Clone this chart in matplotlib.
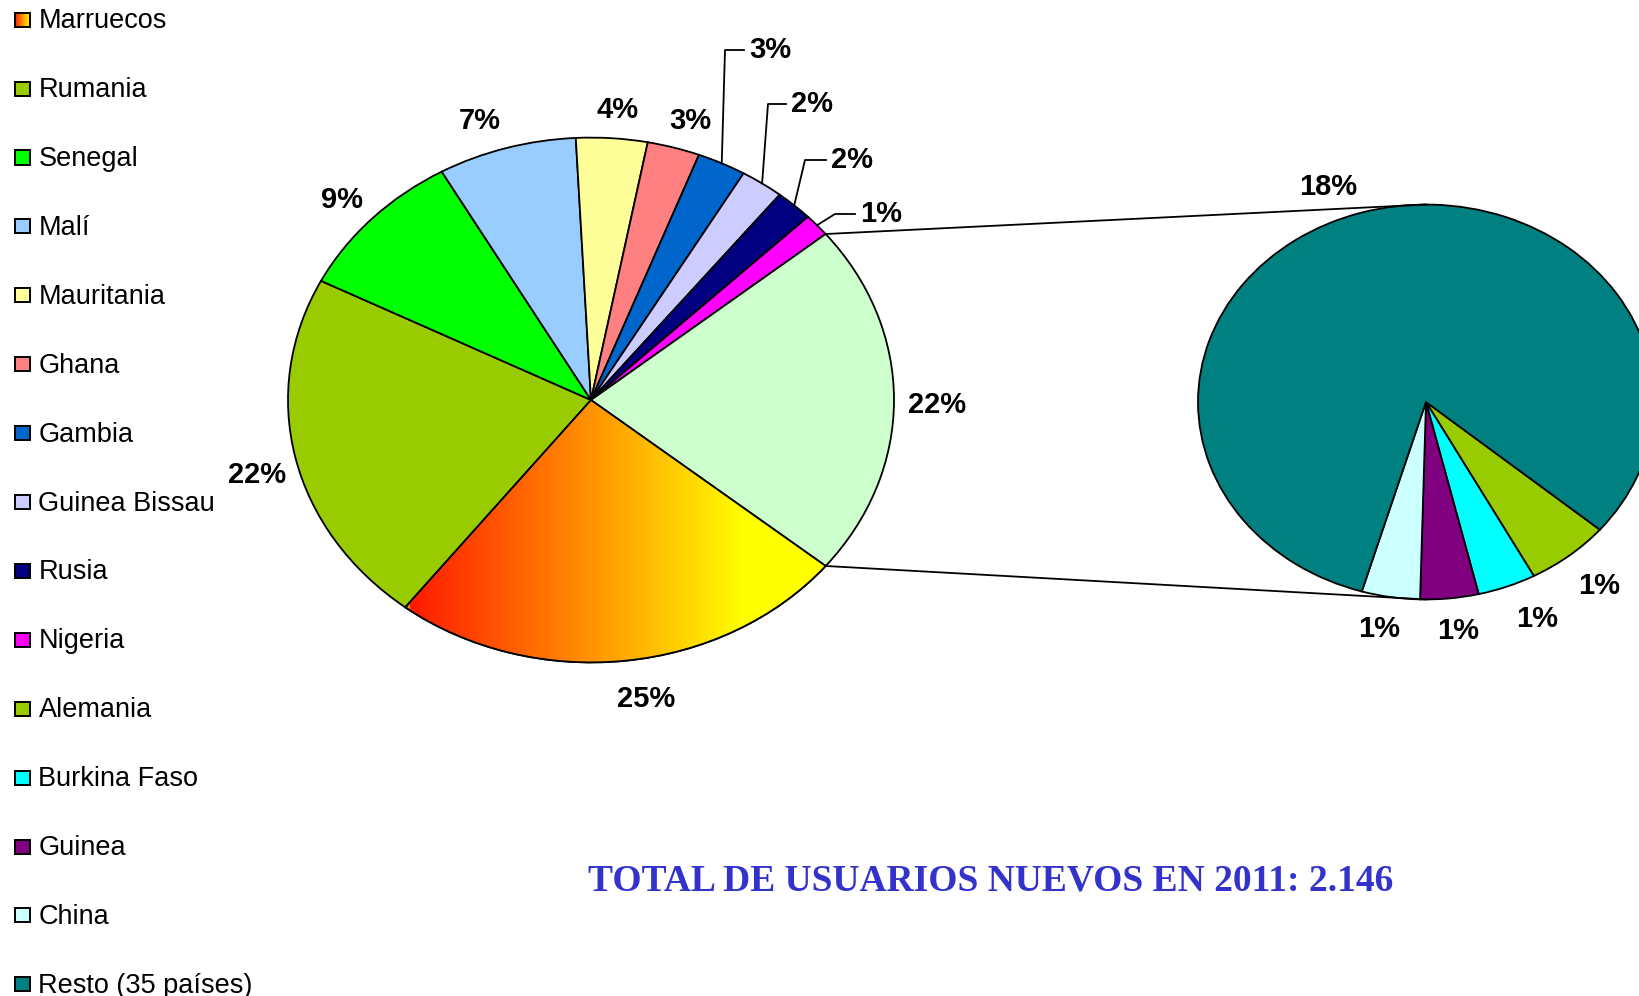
import numpy as np
import matplotlib
matplotlib.use('Agg')
import matplotlib.pyplot as plt
from matplotlib.patches import Rectangle, Wedge
from matplotlib.colors import LinearSegmentedColormap

# ---------------- data ----------------
main_labels = ['Marruecos', 'Rumania', 'Senegal', 'Malí', 'Mauritania', 'Ghana',
               'Gambia', 'Guinea Bissau', 'Rusia', 'Nigeria']
main_values = [24.6, 22.0, 9.3, 7.4, 3.8, 2.8, 2.6, 2.3, 2.0, 1.4]
sec_labels = ['Alemania', 'Burkina Faso', 'Guinea', 'China', 'Resto (35 países)']
sec_values = [1.3, 0.9, 0.9, 0.9, 17.8]
main_colors = ['#FF9900', '#99CC00', '#00FF00', '#99CCFF', '#FFFF99', '#FF8080',
               '#0066CC', '#CCCCFF', '#000080', '#FF00FF']
other_color = '#CCFFCC'
sec_colors = ['#99CC00', '#00FFFF', '#800080', '#CCFFFF', '#008080']
title = 'TOTAL DE USUARIOS NUEVOS EN 2011: 2.146'

# ---------------- layout helpers ----------------
W, H = 1639, 996
K = 0.866  # vertical squash of the pies


def Y(py):
    return (H - py) / K


SANS = ['Liberation Sans', 'DejaVu Sans']
fig = plt.figure(figsize=(W / 100, H / 100), dpi=100)
ax = fig.add_axes([0, 0, 1, 1])
LW = 1.3

# ---------------- main pie ----------------
other_value = sum(sec_values)
vals = main_values + [other_value]
cols = main_colors + [other_color]
total = sum(vals)
c1 = (591, Y(400))
R1 = 303
start1 = -other_value / total * 360 / 2
w1, _ = ax.pie(vals, colors=cols, center=c1, radius=R1, startangle=start1,
               counterclock=False, wedgeprops=dict(edgecolor='black', linewidth=LW))

# gradient for Marruecos
grad_cmap = LinearSegmentedColormap.from_list(
    'mar', [(0, '#FF1A00'), (0.45, '#FF9900'), (0.8, '#FFFF00'), (1, '#FFFF00')])
grad = np.linspace(0, 1, 256).reshape(1, -1)
im = ax.imshow(grad, cmap=grad_cmap, extent=[410, 830, Y(680), Y(380)],
               aspect='auto', zorder=1.5, interpolation='bilinear')
im.set_clip_path(w1[0])
ax.add_patch(Wedge(w1[0].center, w1[0].r, w1[0].theta1, w1[0].theta2,
                   fc='none', ec='black', lw=LW, zorder=2))

# ---------------- secondary pie ----------------
c2 = (1426, Y(402))
R2 = 228
w2, _ = ax.pie(sec_values, colors=sec_colors, center=c2, radius=R2, startangle=-40.3,
               counterclock=False, wedgeprops=dict(edgecolor='black', linewidth=LW))


def pt(w, d, ang=None):
    a = np.deg2rad((w.theta1 + w.theta2) / 2 if ang is None else ang)
    return w.center[0] + w.r * d * np.cos(a), w.center[1] + w.r * d * np.sin(a)


lab_kw = dict(fontsize=21, fontweight='bold', family=SANS, ha='center', va='center')

# pixel nudges (dx, dy) for label placement
main_nudge = {0: (16, 4), 1: (0, 10), 2: (-2, 5), 3: (-16, 6), 4: (3, 6), 5: (6, 6), 10: (4, 5)}
sec_nudge = {0: (3, 1), 1: (15, -3), 2: (5, 1), 3: (-6, 1), 4: (-20, 10)}

# main pie labels
leader = {6: (770, 50, 725), 7: (812, 104, 768), 8: (852, 160, 805), 9: (881, 214, 835)}
for i, w in enumerate(w1):
    txt = f"{round(vals[i] / total * 100)}%"
    if i in leader:
        tx, ty, cx = leader[i]
        ex, ey = pt(w, 1.0)
        ax.plot([ex, cx, tx - 26], [ey, Y(ty), Y(ty)], color='black', lw=LW, zorder=3)
        ax.text(tx, Y(ty), txt, **lab_kw)
    else:
        x, y = pt(w, 1.13)
        dx, dy = main_nudge.get(i, (0, 4))
        ax.text(x + dx, y - dy / K, txt, **lab_kw)

# secondary labels
for i, w in enumerate(w2):
    txt = f"{round(sec_values[i] / total * 100)}%"
    d = 1.19 if i in (0, 1, 4) else 1.16
    x, y = pt(w, d)
    dx, dy = sec_nudge.get(i, (0, 0))
    ax.text(x + dx, y - dy / K, txt, **lab_kw)

# connector lines
wo = w1[-1]
p_top = pt(wo, 1.0, wo.theta2)
p_bot = pt(wo, 1.0, wo.theta1)
ax.plot([p_top[0], c2[0]], [p_top[1], c2[1] + R2], color='black', lw=LW, zorder=3)
ax.plot([p_bot[0], c2[0]], [p_bot[1], c2[1] - R2], color='black', lw=LW, zorder=3)

# ---------------- legend ----------------
all_labels = main_labels + sec_labels
all_colors = main_colors + sec_colors
for j, (lab, col) in enumerate(zip(all_labels, all_colors)):
    cy = 19.7 + j * 68.9
    x0, x1 = 14.5, 30
    y0, y1 = Y(cy + 7), Y(cy - 7)
    if j == 0:
        ax.imshow(grad, cmap=LinearSegmentedColormap.from_list(
            'leg', ['#FF1A00', '#FF9900', '#FFFF00']),
            extent=[x0, x1, y0, y1], aspect='auto', zorder=3)
        ax.add_patch(Rectangle((x0, y0), x1 - x0, y1 - y0, fc='none', ec='black',
                               lw=1.4, zorder=4))
    else:
        ax.add_patch(Rectangle((x0, y0), x1 - x0, y1 - y0, fc=col, ec='black',
                               lw=1.4, zorder=4))
    ax.text(38.5, Y(cy + 8.5), lab, fontsize=19.5, family=SANS, ha='left',
            va='baseline', color='black')

# ---------------- title ----------------
ax.text(991, Y(881), title, ha='center', va='center', fontsize=27,
        fontweight='bold', family=['Liberation Serif', 'DejaVu Serif'], color='#3333CC')

ax.set_aspect('auto')
ax.set_xlim(0, W)
ax.set_ylim(0, H / K)
ax.axis('off')
fig.savefig('out.png', dpi=100, facecolor='white')
